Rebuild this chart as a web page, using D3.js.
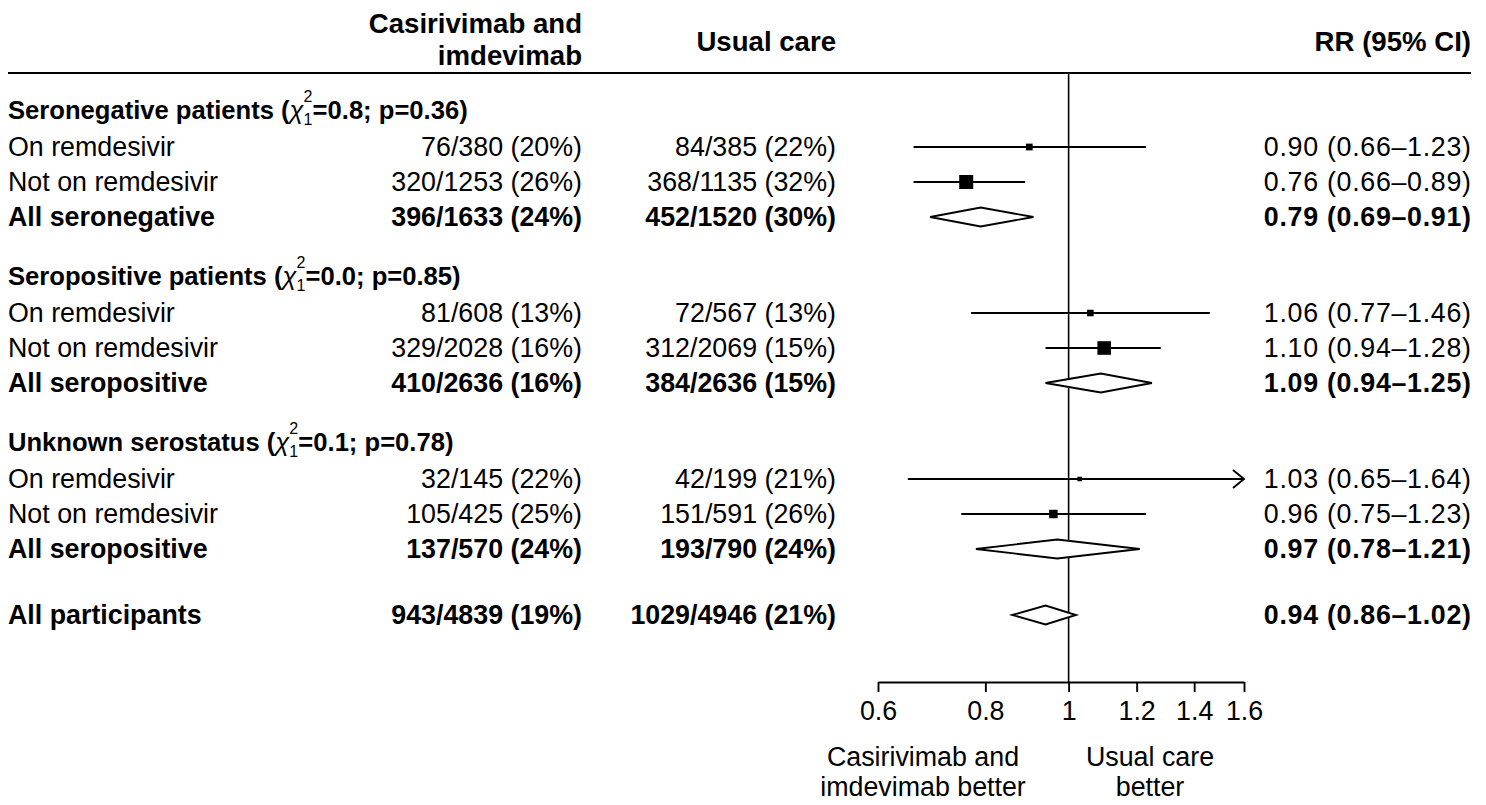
<!DOCTYPE html>
<html>
<head>
<meta charset="utf-8">
<script src="https://cdn.jsdelivr.net/npm/d3@7"></script>
<style>
  body { margin: 0; background: #fff; }
  svg text { font-family: "Liberation Sans", Arial, sans-serif; fill: #000; }
</style>
</head>
<body>
<div id="chart"></div>
<script>
// subgroup headers
const groupNames = ['Seronegative patients', 'Seropositive patients', 'Unknown serostatus']
const groupChi = ['0.8', '0.0', '0.1']
const groupP = ['0.36', '0.85', '0.78']

// rows (3 per group, then overall)
const rowLabels = [
  'On remdesivir', 'Not on remdesivir', 'All seronegative',
  'On remdesivir', 'Not on remdesivir', 'All seropositive',
  'On remdesivir', 'Not on remdesivir', 'All seropositive',
  'All participants'
]
const isSummary = [false, false, true, false, false, true, false, false, true, true]
const casEvents = [76, 320, 396, 81, 329, 410, 32, 105, 137, 943]
const casTotal = [380, 1253, 1633, 608, 2028, 2636, 145, 425, 570, 4839]
const casPct = [20, 26, 24, 13, 16, 16, 22, 25, 24, 19]
const ucEvents = [84, 368, 452, 72, 312, 384, 42, 151, 193, 1029]
const ucTotal = [385, 1135, 1520, 567, 2069, 2636, 199, 591, 790, 4946]
const ucPct = [22, 32, 30, 13, 15, 15, 21, 26, 24, 21]
const rr = [0.90, 0.76, 0.79, 1.06, 1.10, 1.09, 1.03, 0.96, 0.97, 0.94]
const rrLo = [0.66, 0.66, 0.69, 0.77, 0.94, 0.94, 0.65, 0.75, 0.78, 0.86]
const rrHi = [1.23, 0.89, 0.91, 1.46, 1.28, 1.25, 1.64, 1.23, 1.21, 1.02]

// axis
const tickValues = [0.6, 0.8, 1, 1.2, 1.4, 1.6]

const width = 1486
const height = 805
const fs = 26.8

const svg = d3.select('#chart').append('svg')
  .attr('width', width)
  .attr('height', height)

const x = d3.scaleLog().domain([0.6, 1.6]).range([878, 1244])

// vertical layout: header, then 3 rows, then gap to next header
const rowStep = 35
const headerToRow = 37
const groupGap = 59
const overallGap = 66
const headerY = []
const rowY = []
let cur = 110
groupNames.forEach(() => {
  headerY.push(cur)
  let y = cur + headerToRow
  for (let k = 0; k < 3; k++) { rowY.push(y); y += rowStep }
  cur = y - rowStep + groupGap
})
rowY.push(rowY[rowY.length - 1] + overallGap)

const colLabel = 8
const colCas = 582
const colUc = 836
const colRR = 1471
const axisY = 682

// header
const hdr = svg.append('g').attr('font-weight', 'bold').attr('font-size', 27.6)
hdr.append('text').attr('x', colCas).attr('y', 23).attr('dy', '0.35em')
  .attr('text-anchor', 'end').text('Casirivimab and')
hdr.append('text').attr('x', colCas).attr('y', 55).attr('dy', '0.35em')
  .attr('text-anchor', 'end').text('imdevimab')
hdr.append('text').attr('x', colUc).attr('y', 41).attr('dy', '0.35em')
  .attr('text-anchor', 'end').text('Usual care')
hdr.append('text').attr('x', colRR).attr('y', 41).attr('dy', '0.35em')
  .attr('text-anchor', 'end').text('RR (95% CI)')

svg.append('line')
  .attr('x1', colLabel).attr('x2', colRR)
  .attr('y1', 73).attr('y2', 73)
  .attr('stroke', '#000').attr('stroke-width', 2)

// reference line at 1
svg.append('line')
  .attr('x1', x(1)).attr('x2', x(1))
  .attr('y1', 73).attr('y2', axisY)
  .attr('stroke', '#000').attr('stroke-width', 1.6)

// group headers with chi-square
groupNames.forEach((g, gi) => {
  const y = headerY[gi]
  const gg = svg.append('g').attr('font-size', 25.6).attr('font-weight', 'bold')
  const t1 = gg.append('text').attr('x', colLabel).attr('y', y).attr('dy', '0.35em')
  t1.append('tspan').text(g + ' (')
  t1.append('tspan').attr('font-style', 'italic').attr('font-weight', 'normal').text('χ')
  const w = t1.node().getComputedTextLength()
  const sx = colLabel + w
  gg.append('text').attr('x', sx).attr('y', y - 8).attr('font-size', 16)
    .attr('font-weight', 'normal').text('2')
  gg.append('text').attr('x', sx).attr('y', y + 15).attr('font-size', 16)
    .attr('font-weight', 'normal').text('1')
  gg.append('text').attr('x', sx + 9).attr('y', y).attr('dy', '0.35em')
    .text('=' + groupChi[gi] + '; p=' + groupP[gi] + ')')
})

// inverse-SE for square sizes
const invSE = rr.map((d, i) => 3.92 / (Math.log(rrHi[i]) - Math.log(rrLo[i])))
const boxSize = d3.scaleLinear()
  .domain([0, d3.max(invSE.filter((d, i) => !isSummary[i]))])
  .range([0, 14])

const fmt2 = d3.format('.2f')

const rows = svg.append('g').selectAll('g.row')
  .data(rowLabels.map((lab, i) => ({ i, lab, y: rowY[i] })))
  .join('g')
  .attr('class', 'row')
  .attr('font-size', fs)
  .attr('font-weight', d => isSummary[d.i] ? 'bold' : 'normal')

rows.append('text').attr('x', colLabel).attr('y', d => d.y).attr('dy', '0.35em')
  .text(d => d.lab)
rows.append('text').attr('x', colCas).attr('y', d => d.y).attr('dy', '0.35em')
  .attr('text-anchor', 'end')
  .text(d => `${casEvents[d.i]}/${casTotal[d.i]} (${casPct[d.i]}%)`)
rows.append('text').attr('x', colUc).attr('y', d => d.y).attr('dy', '0.35em')
  .attr('text-anchor', 'end')
  .text(d => `${ucEvents[d.i]}/${ucTotal[d.i]} (${ucPct[d.i]}%)`)
rows.append('text').attr('x', colRR + 0.7).attr('y', d => d.y).attr('dy', '0.35em')
  .attr('text-anchor', 'end').attr('letter-spacing', 0.7)
  .text(d => `${fmt2(rr[d.i])} (${fmt2(rrLo[d.i])}\u2013${fmt2(rrHi[d.i])})`)

const [dMin, dMax] = x.domain()

// CI lines + squares
const est = rows.filter(d => !isSummary[d.i])
est.append('line')
  .attr('x1', d => x(Math.max(rrLo[d.i], dMin)))
  .attr('x2', d => x(Math.min(rrHi[d.i], dMax)))
  .attr('y1', d => d.y).attr('y2', d => d.y)
  .attr('stroke', '#000').attr('stroke-width', 1.9)
est.filter(d => rrHi[d.i] > dMax).append('path')
  .attr('d', d => `M${x(dMax) - 11},${d.y - 9}L${x(dMax)},${d.y}L${x(dMax) - 11},${d.y + 9}`)
  .attr('fill', 'none').attr('stroke', '#000').attr('stroke-width', 1.9)
est.append('rect')
  .attr('x', d => x(rr[d.i]) - boxSize(invSE[d.i]) / 2)
  .attr('y', d => d.y - boxSize(invSE[d.i]) / 2)
  .attr('width', d => boxSize(invSE[d.i]))
  .attr('height', d => boxSize(invSE[d.i]))
  .attr('fill', '#000')

// diamonds for summaries
rows.filter(d => isSummary[d.i]).append('path')
  .attr('d', d => {
    const h = 9.5
    return `M${x(rrLo[d.i])},${d.y}L${x(rr[d.i])},${d.y - h}L${x(rrHi[d.i])},${d.y}L${x(rr[d.i])},${d.y + h}Z`
  })
  .attr('fill', '#fff').attr('stroke', '#000').attr('stroke-width', 1.9)

// x axis
const axis = svg.append('g')
  .attr('transform', `translate(0,${axisY})`)
  .call(d3.axisBottom(x).tickValues(tickValues).tickFormat(d3.format(''))
    .tickSize(10).tickSizeOuter(0).tickPadding(9))
axis.select('.domain').attr('stroke-width', 1.9)
axis.selectAll('.tick line').attr('stroke-width', 1.9)
axis.selectAll('.tick text').attr('font-size', fs)
  .attr('font-family', '"Liberation Sans", Arial, sans-serif')

// direction labels
const dirs = [
  { cx: 923, lines: ['Casirivimab and', 'imdevimab better'] },
  { cx: 1150, lines: ['Usual care', 'better'] }
]
dirs.forEach(d => {
  d.lines.forEach((l, k) => {
    svg.append('text').attr('x', d.cx).attr('y', 757 + k * 30).attr('dy', '0.35em')
      .attr('text-anchor', 'middle').attr('font-size', fs).text(l)
  })
})
</script>
</body>
</html>
